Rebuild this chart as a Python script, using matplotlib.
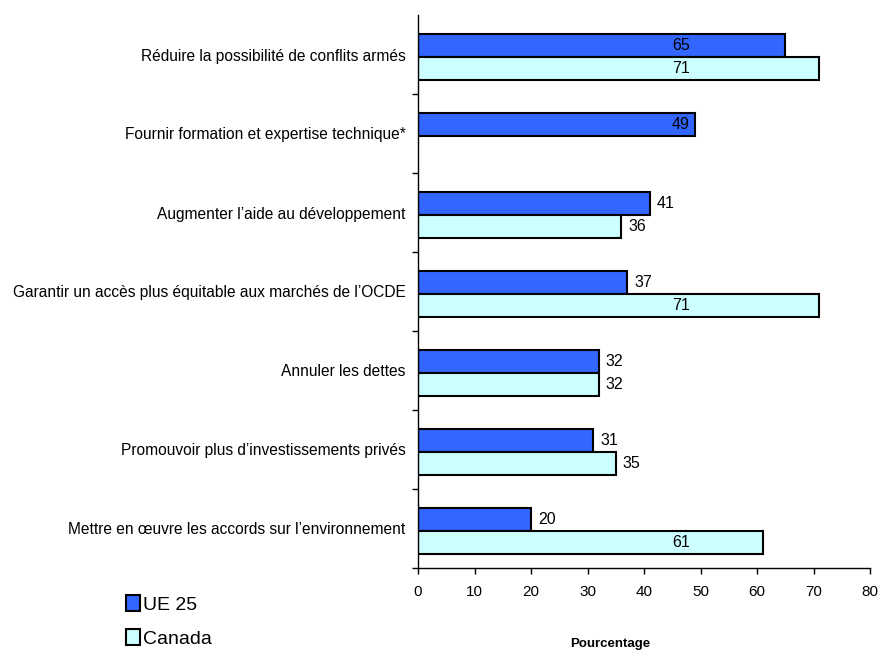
import matplotlib.pyplot as plt
import numpy as np

plt.rcParams["font.family"] = ["Liberation Sans", "DejaVu Sans"]

categories = [
    "Réduire la possibilité de conflits armés",
    "Fournir formation et expertise technique*",
    "Augmenter l’aide au développement",
    "Garantir un accès plus équitable aux marchés de l’OCDE",
    "Annuler les dettes",
    "Promouvoir plus d’investissements privés",
    "Mettre en œuvre les accords sur l’environnement",
]
ue25 = [65, 49, 41, 37, 32, 31, 20]
canada = [71, None, 36, 71, 32, 35, 61]
series_names = ["UE 25", "Canada"]
xticks = [0, 10, 20, 30, 40, 50, 60, 70, 80]

BLUE = "#3366FF"
CYAN = "#CCFFFF"
BAR_H = 0.29
INSIDE_X = 46.5  # labels of long bars sit at a fixed spot inside the bar
INSIDE_MIN = 45

fig = plt.figure(figsize=(8.8, 6.51), dpi=100)
ax = fig.add_axes([418 / 880, 1 - 568 / 651, (870 - 418) / 880, (568 - 15) / 651])

ypos = np.arange(len(categories))


def draw_series(values, offset, color, label):
    ys = [y + offset for y, v in zip(ypos, values) if v is not None]
    vs = [v for v in values if v is not None]
    bars = ax.barh(ys, vs, height=BAR_H, color=color, edgecolor="black",
                   linewidth=1.5, label=label)
    for y, v in zip(ys, vs):
        if v >= INSIDE_MIN:
            ax.text(INSIDE_X, y, f"{v}", ha="center", va="center", fontsize=11.5)
        else:
            ax.annotate(f"{v}", (v, y), xytext=(5, 0), textcoords="offset points",
                        ha="left", va="center", fontsize=11.5)
    return bars


h1 = draw_series(ue25, -BAR_H / 2 + 0.03, BLUE, series_names[0])
h2 = draw_series(canada, BAR_H / 2 + 0.03, CYAN, series_names[1])

ax.set_xlim(0, 80)
ax.set_ylim(len(categories) - 0.5, -0.5)
ax.set_xticks(xticks)
ax.set_xticklabels([str(t) for t in xticks], fontsize=11)
ax.tick_params(axis="x", direction="out", length=4, width=1, pad=8)

ax.set_yticks(ypos)
ax.set_yticklabels(categories, fontsize=11.2)
ax.tick_params(axis="y", which="major", length=0, pad=9)
ax.set_yticks(np.arange(1, len(categories) + 1) - 0.5, minor=True)
ax.tick_params(axis="y", which="minor", direction="out", length=4, width=1)

for side in ["top", "right"]:
    ax.spines[side].set_visible(False)
for side in ["left", "bottom"]:
    ax.spines[side].set_linewidth(1)

fig.text(610 / 880, 1 - 644 / 651, "Pourcentage", ha="center", va="center",
         fontsize=9.5, fontweight="bold")

fig.legend(handles=[h1, h2], labels=series_names, loc="upper left",
           bbox_to_anchor=(126 / 880, 1 - 595 / 651), frameon=False,
           fontsize=14, handlelength=0.7, handleheight=0.9,
           handletextpad=0.15, labelspacing=0.8, borderpad=0, borderaxespad=0)

fig.savefig("out.png", dpi=100)
